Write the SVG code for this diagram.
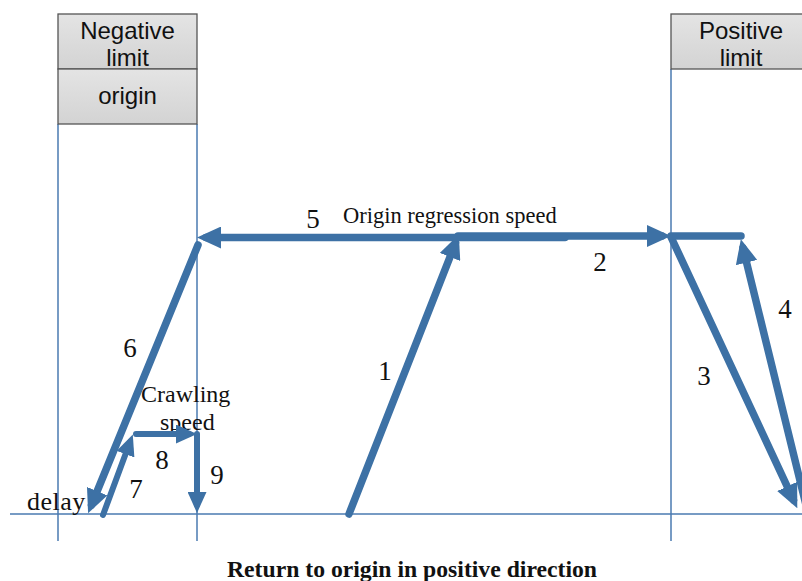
<svg xmlns="http://www.w3.org/2000/svg" width="802" height="581" viewBox="0 0 802 581">
<style>
.box{fill:url(#g);stroke:#555;stroke-width:1.3}
.bt{font-family:"Liberation Sans",Arial,sans-serif;font-size:24px;fill:#111;text-anchor:middle}
.thin{stroke:#4a7ab0;stroke-width:1.5;fill:none}
.a{stroke:#3d71a5;stroke-width:7.5;fill:none;stroke-linecap:round}
.s{stroke-width:6}
.t{font-family:"Liberation Serif","Times New Roman",serif;font-size:24px;fill:#111}
.n{font-size:27px;text-anchor:middle}
.m{font-size:22.5px}
.d{font-size:26px}
</style>
<defs>
<linearGradient id="g" x1="0" y1="0" x2="0" y2="1"><stop offset="0" stop-color="#e4e4e4"/><stop offset="1" stop-color="#d3d3d3"/></linearGradient>
<marker id="ah" viewBox="0 0 24 22" markerWidth="24" markerHeight="22" refX="15" refY="11" orient="auto" markerUnits="userSpaceOnUse"><path d="M0,0 L24,11 L0,22 z" fill="#3d71a5"/></marker>
<marker id="ahs" viewBox="0 0 21 19" markerWidth="21" markerHeight="19" refX="13" refY="9.5" orient="auto" markerUnits="userSpaceOnUse"><path d="M0,0 L21,9.5 L0,19 z" fill="#3d71a5"/></marker>
</defs>
<rect width="802" height="581" fill="#fff"/>
<g id="axes">
<line class="thin" x1="58" y1="124" x2="58" y2="541"/>
<line class="thin" x1="197" y1="124" x2="197" y2="541"/>
<line class="thin" x1="671" y1="69" x2="671" y2="541"/>
<line class="thin" x1="10" y1="514" x2="802" y2="514"/>
</g>
<g id="negative-limit"><rect class="box" x="58" y="14" width="139" height="55"/><text class="bt" x="127.5" y="39">Negative</text><text class="bt" x="127.5" y="66">limit</text></g>
<g id="origin"><rect class="box" x="58" y="69" width="139" height="55"/><text class="bt" x="127.5" y="104">origin</text></g>
<g id="positive-limit"><rect class="box" x="671" y="14" width="140" height="55"/><text class="bt" x="741" y="39">Positive</text><text class="bt" x="741" y="66">limit</text></g>
<g id="labels">
<text class="t m" x="343" y="223">Origin regression speed</text>
<text class="t n" x="313" y="228">5</text>
<text class="t n" x="600" y="271">2</text>
<text class="t n" x="385" y="380">1</text>
<text class="t n" x="704" y="385">3</text>
<text class="t n" x="785" y="318">4</text>
<text class="t n" x="130" y="357">6</text>
<text class="t" x="141" y="402">Crawling</text>
<text class="t" x="160" y="430">speed</text>
<text class="t n" x="162" y="469">8</text>
<text class="t n" x="136" y="498">7</text>
<text class="t n" x="217" y="484">9</text>
<text class="t d" x="27" y="510" letter-spacing="0.5">delay</text>
<text x="412" y="577" font-family="'Liberation Serif','Times New Roman',serif" font-size="23.7" font-weight="bold" text-anchor="middle" fill="#111">Return to origin in positive direction</text>
</g>
<g id="connectors">
<line class="a" x1="349" y1="514" x2="455.5" y2="243" marker-end="url(#ah)"/>
<line class="a" x1="458" y1="236" x2="662" y2="236" marker-end="url(#ah)"/>
<line class="a" x1="565" y1="237.5" x2="206" y2="237.5" marker-end="url(#ah)"/>
<line class="a" x1="671" y1="237" x2="793.5" y2="500" marker-end="url(#ah)"/>
<line class="a" x1="806" y1="505" x2="743" y2="248" marker-end="url(#ah)"/>
<line class="a" x1="741" y1="236" x2="671" y2="236"/>
<line class="a" x1="198" y1="245" x2="91.5" y2="505" marker-end="url(#ah)"/>
<line class="a s" x1="103" y1="515" x2="130" y2="442" marker-end="url(#ahs)"/>
<line class="a s" x1="136" y1="434" x2="189" y2="434" marker-end="url(#ahs)"/>
<line class="a s" x1="197" y1="434" x2="197" y2="505" marker-end="url(#ahs)"/>
</g>
</svg>
